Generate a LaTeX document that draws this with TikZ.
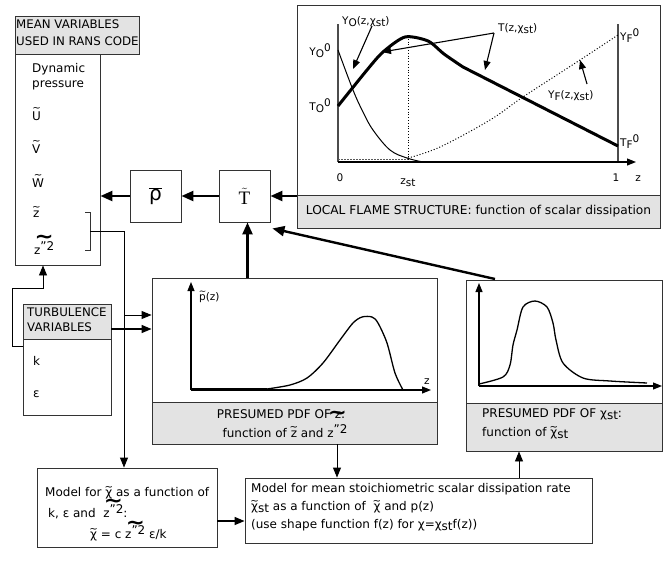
\documentclass[tikz,border=0pt]{standalone}
\usepackage{fontspec}
\setmainfont{DejaVu Sans}
\newfontfamily\serifrm{Liberation Serif}
\usetikzlibrary{arrows.meta}
\definecolor{boxgray}{HTML}{E3E3E3}
\definecolor{edge}{HTML}{333333}
% small tilde over a letter: #1 raise, #2 letter
\newcommand\tlx[2]{\ooalign{#2\cr\hidewidth\raisebox{#1}{\scalebox{0.85}{\textasciitilde}}\hidewidth\cr}}
\newcommand\mydn[1]{\raisebox{-0.35ex}{#1}}
\newcommand\myup[1]{\raisebox{0.55ex}{#1}}
% big bold tilde over z"2: #1 raise
\newcommand\btl[1]{\ooalign{z\myup{”2}\cr\hidewidth\raisebox{#1}{\scalebox{1.9}[1.7]{\bfseries\textasciitilde}}\hidewidth\cr}}
\newcommand\tchi{\tlx{0.5em}{χ}}
\tikzset{
  corners/.style n args={4}{at={({(#1+#3)/2},{(#2+#4)/2})},
     minimum width={(#3-#1)*1pt}, minimum height={(#4-#2)*1pt}},
  bx/.style={draw=edge, line width=0.9pt, inner sep=0pt, fill=white},
  gbx/.style={bx, fill=boxgray},
  arr/.style={-{Triangle[length=12pt,width=10pt]}, line width=2.4pt},
  marr/.style={-{Triangle[length=10pt,width=8pt]}, line width=1.4pt},
  tarr/.style={-{Triangle[length=10pt,width=8pt]}, line width=0.9pt},
  parr/.style={-{Triangle[length=9pt,width=7pt]}, line width=1.1pt},
  txt/.style={inner sep=0pt, font=\fontsize{12}{15}\selectfont},
  lbl/.style={inner sep=0pt, font=\fontsize{10.5}{12}\selectfont},
}
\begin{document}
\begin{tikzpicture}[x=1pt,y=-1pt]
\fill[white] (0,0) rectangle (672,560);
\useasboundingbox (0,0) rectangle (672,560);

% ---------- mean variables
\node[gbx, corners={15}{16}{139}{54}] (meanh) {};
\node[bx, corners={15}{54}{100}{265}] (mean) {};
\node[txt, align=left, anchor=north west, font=\fontsize{11.8}{16.5}\selectfont] (meant) at (16,20) {MEAN VARIABLES\\USED IN RANS CODE};
\node[txt, align=left, anchor=north west] (dyn) at (32,63) {Dynamic\\pressure};
\node[txt, anchor=base west] (vu) at (32,120) {\tlx{0.68em}{U}};
\node[txt, anchor=base west] (vv) at (32,153) {\tlx{0.68em}{V}};
\node[txt, anchor=base west] (vw) at (32,187) {\tlx{0.68em}{W}};
\node[txt, anchor=base west] (vz) at (33,217) {\tlx{0.55em}{z}};
\node[txt, anchor=base west] (vzz) at (34,254) {\btl{0.85em}};
\draw[edge, line width=0.9pt] (85,212) -- (90,212) -- (90,250) -- (85,250);
\coordinate (brk) at (90,231);
\coordinate (c1) at (124,231);
\coordinate (c2) at (124,315);

% ---------- turbulence
\node[gbx, corners={23}{304}{111}{339}] (turbh) {};
\node[bx, corners={23}{339}{111}{415}] (turb) {};
\node[txt, align=left, anchor=north west, font=\fontsize{11.8}{15}\selectfont] (turbt) at (27,308) {TURBULENCE\\VARIABLES};
\node[txt, anchor=base west] (tk) at (33,365) {k};
\node[txt, anchor=base west] (te) at (33,397) {ε};
\coordinate (t1) at (23,346);
\coordinate (t2) at (111,329);
\coordinate (x43) at (43,0);

% ---------- rho and T
\node[bx, corners={130}{170}{181}{222}, font=\fontsize{20}{20}\selectfont] (rho) {$\overline{\mbox{ρ}}$};
\node[bx, corners={219}{170}{270}{222}, font=\serifrm\fontsize{19}{19}\selectfont] (T) {$\tilde{\mbox{T}}$};

% ---------- flame structure
\node[bx, corners={297}{5}{660}{228}] (flame) {};
\node[gbx, corners={297}{195}{660}{228}, font=\fontsize{12.2}{14}\selectfont] (flameg) {LOCAL FLAME STRUCTURE: function of scalar dissipation};
\draw[gray!60!black, line width=1.3pt] (338,24) -- (338,162);
\draw[gray!60!black, line width=1.3pt] (618,24) -- (618,162);
\draw[dotted, line width=0.8pt] (408,36) -- (408,162);
\draw[dash pattern=on 2pt off 1pt, line width=0.6pt, gray!70!black] (338,159.5) -- (408,159.5);
\draw[line width=1pt] plot[smooth, tension=0.6] coordinates {(338,50) (353,90) (363,112) (373,130) (390,150) (407,158) (423,162)};
\draw[dotted, line width=1pt] plot[smooth, tension=0.6] coordinates {(408,158) (440,147) (490,120) (523,97) (580,60) (618,35)};
\draw[line width=3pt, line join=round] plot[smooth, tension=0.45] coordinates {(338,106) (367,70) (383,52) (405,37) (428,41) (444,54) (463,67)} -- (618,146);
\draw[parr] (338,162) -- (636,162);
\node[lbl, anchor=base east] (yo0) at (331,55) {Y\mydn{O}\myup{0}};
\node[lbl, anchor=base east] (to0) at (331,110) {T\mydn{O}\myup{0}};
\node[lbl, anchor=base west] (yf0) at (620,40) {Y\mydn{F}\myup{0}};
\node[lbl, anchor=base west] (tf0) at (620,146) {T\mydn{F}\myup{0}};
\node[lbl, anchor=base west] (yol) at (342,24) {Y\mydn{O}(z,χ\mydn{st})};
\node[lbl, anchor=base west] (tl) at (498,31) {T(z,χ\mydn{st})};
\node[lbl, anchor=base west] (yfl) at (548,98) {Y\mydn{F}(z,χ\mydn{st})};
\node[lbl, anchor=base] (l0) at (340,181) {0};
\node[lbl, anchor=base] (lzst) at (408,184) {z\mydn{st}};
\node[lbl, anchor=base] (l1) at (616,181) {1};
\node[lbl, anchor=base] (lz) at (638,181) {z};
\coordinate (ya) at (372,26);
\coordinate (ta) at (494,33);
\coordinate (fa) at (587,84);
\draw[parr] (ya) -- (353,69);
\draw[parr] (ta) -- (382,52);
\draw[parr] (ta) -- (485,70);
\draw[parr] (fa) -- (580,60);

% ---------- presumed pdf of z
\node[bx, corners={152}{278}{437}{402}] (pdfz) {};
\node[gbx, corners={152}{402}{437}{444}] (pdfzg) {};
\node[txt, anchor=base] (pdfzt1) at (281,418) {PRESUMED PDF OF z:};
\node[txt, anchor=base] (pdfzt2) at (285,437) {function of \tlx{0.55em}{z} and \btl{1.45em}};
\draw[parr] (191,390) -- (191,282);
\draw[parr] (191,390) -- (431,390);
\draw[line width=2.2pt] (191,389) -- (267,389);
\draw[line width=1.3pt] plot[smooth, tension=0.5] coordinates {(267,389) (290,385) (307,378) (323,363) (340,340) (353,323) (362,317) (372,317) (378,323) (387,343) (395,373) (403,390)};
\node[lbl, anchor=base west] (pz) at (199,300) {\tlx{0.5em}{p}(z)};
\node[lbl, anchor=base] (zz) at (427,384) {z};

% ---------- presumed pdf of chi
\node[bx, corners={466}{280}{662}{403}] (pdfc) {};
\node[gbx, corners={466}{403}{662}{451}] (pdfcg) {};
\node[txt, anchor=base west] (pdfct1) at (482,417) {PRESUMED PDF OF χ\mydn{st}:};
\node[txt, anchor=base west] (pdfct2) at (482,436) {function of \tchi\mydn{st}};
\draw[parr] (479,386) -- (479,283);
\draw[parr] (479,386) -- (662,386);
\draw[line width=1.3pt] plot[smooth, tension=0.5] coordinates {(479,384) (503,377) (510,365) (513,345) (517,330) (523,307) (535,301) (547,307) (553,323) (556,340) (563,363) (583,378) (610,381) (647,383)};

% ---------- bottom models
\node[bx, corners={37}{468}{217}{547}] (chimodel) {};
\node[txt, anchor=base west] (cm1) at (45,496) {Model for \tchi\ as a function of};
\node[txt, anchor=base west] (cm2) at (48,517) {k, ε and \ \btl{0.8em}:};
\node[txt, anchor=base west] (cm3) at (90,538) {\tchi\ = c \btl{0.7em} ε/k};
\node[bx, corners={245}{478}{592}{543}] (chist) {};
\node[txt, anchor=base west] (cs1) at (251,492) {Model for mean stoichiometric scalar dissipation rate};
\node[txt, anchor=base west] (cs2) at (251,510) {\tchi\mydn{st} as a function of \ \tchi\ and p(z)};
\node[txt, anchor=base west] (cs3) at (251,528) {(use shape function f(z) for χ=χ\mydn{st}f(z))};
\coordinate (m1) at (217,521);
\coordinate (x337) at (337,0);
\coordinate (x519) at (519,0);
\coordinate (pc1) at (495,279);

% ---------- connectors
\draw[arr] (rho.west) -- (rho.west -| mean.east);
\draw[arr] (T.west) -- (rho.east);
\draw[arr] (T.east -| flame.west) -- (T.east);
\draw[arr] ([xshift=3pt]T.south |- pdfz.north) -- ([xshift=3pt]T.south);
\draw[arr] (pc1) -- ([xshift=2pt,yshift=-6pt]T.south east);
\draw[tarr] (brk) -- (c1) -- (c1 |- chimodel.north);
\draw[tarr] (c2) -- (c2 -| pdfz.west);
\draw[marr] (t2) -- (t2 -| pdfz.west);
\draw[tarr] (t1) -- (12,346) |- (43,288) -- (mean.south -| x43);
\draw[tarr] (pdfzg.south -| x337) -- (chist.north -| x337);
\draw[tarr] (chist.north -| x519) -- (pdfcg.south -| x519);
\draw[marr] (m1) -- (m1 -| chist.west);
\end{tikzpicture}
\end{document}
